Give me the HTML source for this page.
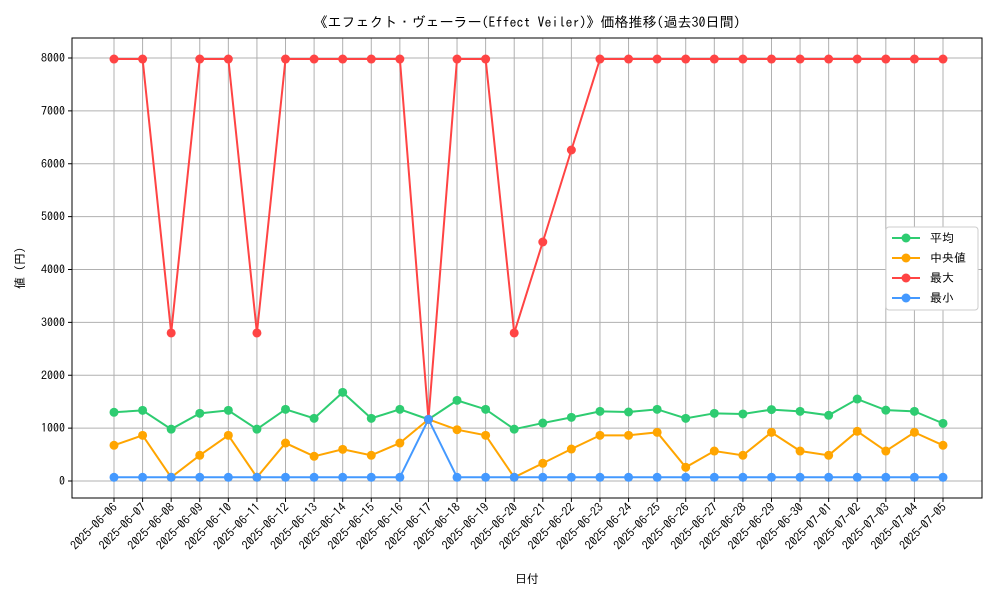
<!DOCTYPE html>
<html><head><meta charset="utf-8"><style>
body{margin:0;background:#fff;}
svg text{font-family:"IPAGothic","Liberation Sans","Noto Sans CJK JP",sans-serif;}
</style></head><body>
<svg id="chart" width="1000" height="600" xmlns="http://www.w3.org/2000/svg"></svg>
<script>
const dates=["2025-06-06","2025-06-07","2025-06-08","2025-06-09","2025-06-10","2025-06-11","2025-06-12","2025-06-13","2025-06-14","2025-06-15","2025-06-16","2025-06-17","2025-06-18","2025-06-19","2025-06-20","2025-06-21","2025-06-22","2025-06-23","2025-06-24","2025-06-25","2025-06-26","2025-06-27","2025-06-28","2025-06-29","2025-06-30","2025-07-01","2025-07-02","2025-07-03","2025-07-04","2025-07-05"];
const avgVals=[1300,1336,980,1280,1336,980,1355,1185,1677,1185,1355,1166,1525,1355,980,1096,1204,1317,1305,1355,1185,1280,1268,1350,1317,1243,1550,1340,1317,1090];
const medVals=[675,864,70,486,864,70,718,467,599,486,718,1166,970,864,70,335,605,864,864,920,259,567,486,920,567,486,940,567,920,675];
const maxVals=[7980,7980,2800,7980,7980,2800,7980,7980,7980,7980,7980,1166,7980,7980,2800,4520,6260,7980,7980,7980,7980,7980,7980,7980,7980,7980,7980,7980,7980,7980];
const minVals=[70,70,70,70,70,70,70,70,70,70,70,1166,70,70,70,70,70,70,70,70,70,70,70,70,70,70,70,70,70,70];
const yTicks=[0,1000,2000,3000,4000,5000,6000,7000,8000];
const svg=document.getElementById('chart');
const NS="http://www.w3.org/2000/svg";
const L=72,R=982,T=38,B=498;
const xS=i=>114+i*(943-114)/(dates.length-1);
const yS=v=>481-v*(481-58)/8000;
function mk(tag,attrs,name,txt){const e=document.createElementNS(NS,tag);for(const k in attrs)e.setAttribute(k,attrs[k]);


if(txt!==undefined)e.textContent=txt;svg.appendChild(e);return e;}
dates.forEach((d,i)=>{mk('line',{x1:xS(i),x2:xS(i),y1:T,y2:B,stroke:'#b0b0b0','stroke-width':1},'x-gridline');});
yTicks.forEach(v=>{mk('line',{x1:L,x2:R,y1:yS(v),y2:yS(v),stroke:'#b0b0b0','stroke-width':1},'y-gridline');
mk('line',{x1:L-4,x2:L,y1:yS(v),y2:yS(v),stroke:'#000'},'y-tick');
mk('text',{x:L-7,y:yS(v)+4,'text-anchor':'end','font-size':12},'y-tick-label',String(v));});
dates.forEach((d,i)=>{mk('line',{x1:xS(i),x2:xS(i),y1:B,y2:B+4,stroke:'#000'},'x-tick');
mk('text',{x:xS(i)+4,y:B+10,'text-anchor':'end','font-size':12,transform:`rotate(-45 ${xS(i)+4} ${B+10})`},'x-tick-label',d);});
mk('rect',{x:L,y:T,width:R-L,height:B-T,fill:'none',stroke:'#000','stroke-width':1},'plot-frame');
const series=[["平均",avgVals,"#2ecc71"],["中央値",medVals,"#ffa500"],["最大",maxVals,"#ff4444"],["最小",minVals,"#4499ff"]];
series.forEach(([n,vals,c])=>{
mk('polyline',{points:vals.map((v,i)=>xS(i)+','+yS(v)).join(' '),fill:'none',stroke:c,'stroke-width':2},'series-line');
vals.forEach((v,i)=>mk('circle',{cx:xS(i),cy:yS(v),r:4.5,fill:c},'data-point'));});
mk('rect',{x:886,y:227,width:92,height:83,fill:'#fff',stroke:'#ccc',rx:3},'legend-box');
series.forEach(([n,vals,c],k)=>{const y=238+k*20;
mk('line',{x1:892,x2:920,y1:y,y2:y,stroke:c,'stroke-width':2},'legend-line');
mk('circle',{cx:906,cy:y,r:4.5,fill:c},'legend-marker');
mk('text',{x:930,y:y+4,'font-size':12},'legend-entry',n);});
mk('text',{x:527,y:27,'text-anchor':'middle','font-size':14},'chart-title','《エフェクト・ヴェーラー(Effect Veiler)》価格推移(過去30日間)');
mk('text',{x:527,y:583,'text-anchor':'middle','font-size':12},'x-axis-title','日付');
mk('text',{x:24,y:268,'text-anchor':'middle','font-size':12,transform:'rotate(-90 24 268)'},'y-axis-title','値 (円)');
</script>
</body></html>
